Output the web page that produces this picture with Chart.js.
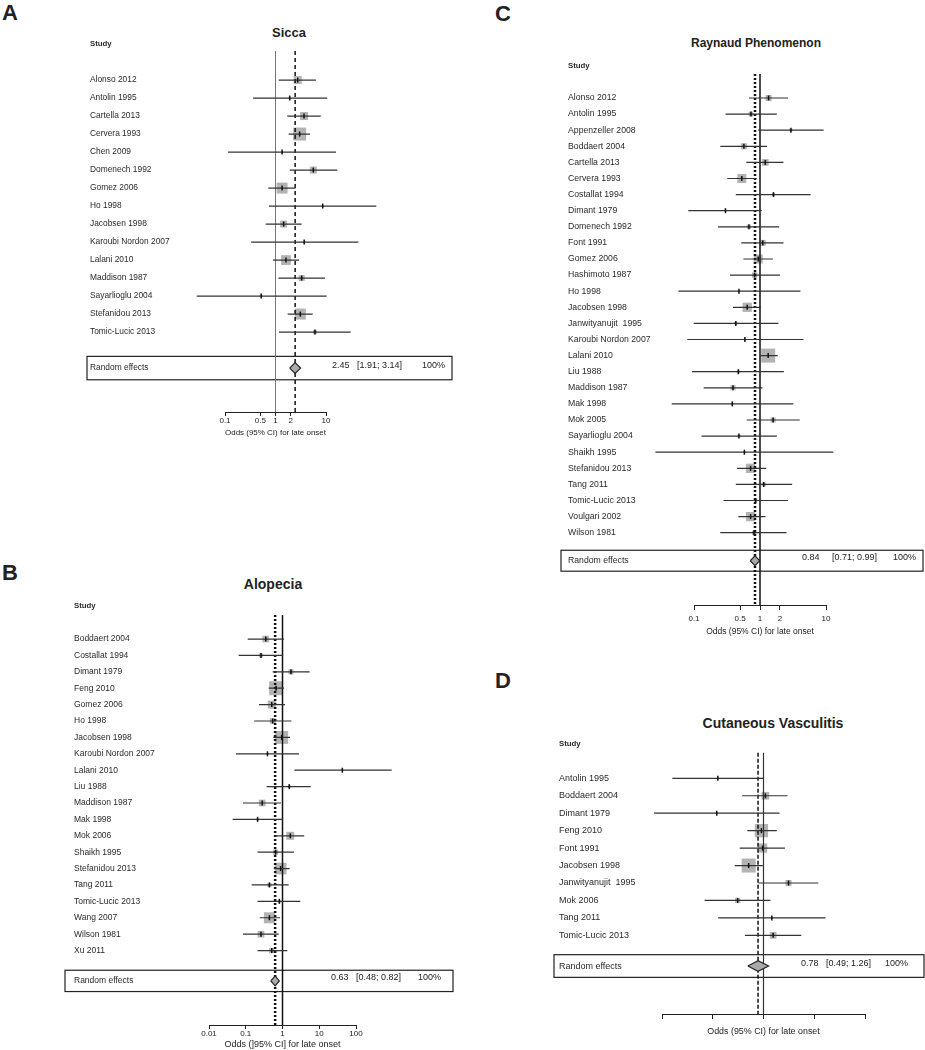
<!DOCTYPE html>
<html>
<head>
<meta charset="utf-8">
<script src="https://cdn.jsdelivr.net/npm/chart.js@4.4.0/dist/chart.umd.min.js"></script>
<style>
    body { margin: 0; background: #fff; }
    #page { position: relative; width: 925px; height: 1050px; font-family: "Liberation Sans", Arial, sans-serif; color: #222; }
    canvas { position: absolute; }
    .letra { position: absolute; font-weight: bold; font-size: 22px; line-height: 22px; }
    .titulo { position: absolute; font-weight: bold; transform: translate(-50%, -50%); white-space: nowrap; line-height: 1; }
</style>
</head>
<body>
<div id="page">
    <div class="letra" style="left:2px;top:2px">A</div>
    <div class="letra" style="left:2px;top:562px">B</div>
    <div class="letra" style="left:495px;top:3px">C</div>
    <div class="letra" style="left:495px;top:670px">D</div>

    <div class="titulo" style="left:289px;top:32px;font-size:13px">Sicca</div>
    <div class="titulo" style="left:273px;top:584px;font-size:14px">Alopecia</div>
    <div class="titulo" style="left:756px;top:43px;font-size:12px">Raynaud Phenomenon</div>
    <div class="titulo" style="left:773px;top:723px;font-size:14px">Cutaneous Vasculitis</div>

    <canvas id="chartSicca" width="460" height="440" style="left:0;top:0"></canvas>
    <canvas id="chartAlopecia" width="460" height="490" style="left:0;top:560px"></canvas>
    <canvas id="chartRaynaud" width="375" height="640" style="left:550px;top:0"></canvas>
    <canvas id="chartVasculitis" width="375" height="380" style="left:550px;top:660px"></canvas>
</div>

<script>
/* =====================
   DATOS
===================== */

// A - Sicca
const siccaStudies = ['Alonso 2012', 'Antolin 1995', 'Cartella 2013', 'Cervera 1993', 'Chen 2009', 'Domenech 1992', 'Gomez 2006', 'Ho 1998', 'Jacobsen 1998', 'Karoubi Nordon 2007', 'Lalani 2010', 'Maddison 1987', 'Sayarlioglu 2004', 'Stefanidou 2013', 'Tomic-Lucic 2013'];
const siccaOR = [2.75, 1.91, 3.67, 3.01, 1.35, 5.6, 1.35, 8.6, 1.45, 3.7, 1.61, 3.3, 0.52, 3.1, 6.05];
const siccaLower = [1.16, 0.36, 1.71, 1.82, 0.115, 1.91, 0.72, 0.74, 0.64, 0.33, 0.89, 1.14, 0.0275, 1.74, 1.17];
const siccaUpper = [6.3, 10.6, 7.85, 4.82, 15.8, 16.7, 2.47, 99, 3.3, 43.7, 2.92, 9.55, 10.3, 5.45, 30.8];
const siccaWeight = [8, 0.5, 8, 21, 0.5, 6, 15, 0.5, 6, 0.5, 12, 4.5, 0.5, 15, 2];
const siccaPooled = [2.45, 1.91, 3.14];
const siccaTicks = [0.1, 0.5, 1, 2, 10];

// B - Alopecia
const alopeciaStudies = ['Boddaert 2004', 'Costallat 1994', 'Dimant 1979', 'Feng 2010', 'Gomez 2006', 'Ho 1998', 'Jacobsen 1998', 'Karoubi Nordon 2007', 'Lalani 2010', 'Liu 1988', 'Maddison 1987', 'Mak 1998', 'Mok 2006', 'Shaikh 1995', 'Stefanidou 2013', 'Tang 2011', 'Tomic-Lucic 2013', 'Wang 2007', 'Wilson 1981', 'Xu 2011'];
const alopeciaOR = [0.35, 0.26, 1.7, 0.67, 0.51, 0.54, 0.95, 0.39, 42.5, 1.53, 0.28, 0.21, 1.63, 0.65, 0.89, 0.44, 0.82, 0.44, 0.26, 0.51];
const alopeciaLower = [0.113, 0.064, 0.54, 0.42, 0.23, 0.17, 0.56, 0.054, 2.1, 0.37, 0.084, 0.044, 0.65, 0.21, 0.59, 0.145, 0.21, 0.24, 0.084, 0.21];
const alopeciaUpper = [1.1, 1.0, 5.5, 1.1, 1.17, 1.74, 1.6, 2.8, 935, 5.85, 0.91, 1.0, 3.9, 2.05, 1.57, 1.47, 3.05, 0.86, 0.79, 1.35];
const alopeciaWeight = [4.2, 1.5, 2.4, 18.5, 6.0, 3.0, 15.9, 0.4, 0.4, 0.8, 4.2, 0.4, 6.0, 2.4, 12.9, 1.7, 0.8, 11.4, 4.2, 2.6];
const alopeciaPooled = [0.63, 0.48, 0.82];
const alopeciaTicks = [0.01, 0.1, 1, 10, 100];

// C - Raynaud
const raynaudStudies = ['Alonso 2012', 'Antolin 1995', 'Appenzeller 2008', 'Boddaert 2004', 'Cartella 2013', 'Cervera 1993', 'Costallat 1994', 'Dimant 1979', 'Domenech 1992', 'Font 1991', 'Gomez 2006', 'Hashimoto 1987', 'Ho 1998', 'Jacobsen 1998', 'Janwityanujit  1995', 'Karoubi Nordon 2007', 'Lalani 2010', 'Liu 1988', 'Maddison 1987', 'Mak 1998', 'Mok 2005', 'Sayarlioglu 2004', 'Shaikh 1995', 'Stefanidou 2013', 'Tang 2011', 'Tomic-Lucic 2013', 'Voulgari 2002', 'Wilson 1981'];
const raynaudOR = [1.35, 0.73, 2.94, 0.57, 1.2, 0.53, 1.6, 0.30, 0.68, 1.1, 0.94, 0.83, 0.48, 0.64, 0.43, 0.59, 1.33, 0.47, 0.39, 0.38, 1.58, 0.48, 0.58, 0.72, 1.14, 0.86, 0.72, 0.81];
const raynaudLower = [0.68, 0.30, 0.94, 0.25, 0.62, 0.32, 0.43, 0.082, 0.23, 0.52, 0.56, 0.35, 0.058, 0.39, 0.099, 0.079, 1.0, 0.093, 0.14, 0.046, 0.63, 0.13, 0.026, 0.45, 0.43, 0.28, 0.47, 0.25];
const raynaudUpper = [2.67, 1.8, 9.2, 1.28, 2.27, 0.89, 5.85, 1.06, 1.95, 2.27, 1.57, 2.02, 4.1, 1.03, 1.9, 4.57, 1.86, 2.3, 1.09, 3.2, 4.0, 1.8, 12.9, 1.24, 3.07, 2.64, 1.21, 2.52];
const raynaudWeight = [3.6, 2.2, 0.9, 3.6, 4.5, 8.1, 0.9, 0.4, 1.8, 3.6, 8.1, 2.8, 0.4, 8.6, 0.9, 0.4, 19.6, 0.9, 2.5, 0.4, 2.5, 0.9, 0.4, 8.6, 1.6, 0.9, 8.6, 1.6];
const raynaudPooled = [0.84, 0.71, 0.99];
const raynaudTicks = [0.1, 0.5, 1, 2, 10];

// D - Cutaneous vasculitis
const vasculitisStudies = ['Antolin 1995', 'Boddaert 2004', 'Dimant 1979', 'Feng 2010', 'Font 1991', 'Jacobsen 1998', 'Janwityanujit  1995', 'Mok 2006', 'Tang 2011', 'Tomic-Lucic 2013'];
const vasculitisOR = [0.126, 1.09, 0.12, 0.91, 0.96, 0.51, 3.11, 0.31, 1.46, 1.55];
const vasculitisLower = [0.016, 0.38, 0.007, 0.48, 0.34, 0.27, 0.79, 0.069, 0.128, 0.43];
const vasculitisUpper = [1.0, 2.97, 2.07, 1.83, 2.64, 0.97, 12, 1.37, 16.7, 5.54];
const vasculitisWeight = [0.6, 9.2, 0.6, 27.7, 13.5, 30.7, 5.6, 4.4, 0.6, 7.0];
const vasculitisPooled = [0.78, 0.49, 1.26];
const vasculitisTicks = [0.01, 0.1, 1, 10, 100];

Chart.defaults.font.family = '"Liberation Sans", Arial, sans-serif';
Chart.defaults.color = '#222';

/* =====================
   CAJA "RANDOM EFFECTS"
===================== */
const randomBox = {
    id: 'randomBox',
    beforeDatasetsDraw(chart, args, opts) {
        const ctx = chart.ctx;
        const y = chart.scales.y;
        const yc = y.getPixelForValue(opts.row);
        const half = Math.abs(y.getPixelForValue(opts.row + 0.65) - yc);
        const left = y.left + opts.boxLeft;
        ctx.save();
        ctx.strokeStyle = '#222';
        ctx.lineWidth = 1.2;
        ctx.strokeRect(left, yc - half, opts.boxRight - left, 2 * half);
        ctx.fillStyle = '#222';
        ctx.font = '9px "Liberation Sans", Arial, sans-serif';
        ctx.textBaseline = 'middle';
        const [est, lo, hi] = opts.pooled;
        ctx.fillText(est.toFixed(2), opts.textX[0], yc - 3);
        ctx.fillText('[' + lo.toFixed(2) + '; ' + hi.toFixed(2) + ']', opts.textX[1], yc - 3);
        ctx.fillText('100%', opts.textX[2], yc - 3);
        ctx.restore();
    }
};

function forestChart(id, p) {
    const rows = [-2].concat(p.studies.map((s, i) => i), [p.randomRow]);
    const rowLabels = ['Study'].concat(p.studies, ['Random effects']);
    const [pooledEst, pooledLo, pooledHi] = p.pooled;
    const maxW = Math.max(...p.weight);

    // intervalos: un tramo por estudio, separados por un punto nulo
    const ciData = [];
    p.studies.forEach((s, i) => {
        ciData.push({ x: p.lower[i], y: i }, { x: p.upper[i], y: i }, { x: p.upper[i], y: null });
    });
    const pointData = p.or.map((v, i) => ({ x: v, y: i }));
    const r = p.randomRow;
    const h = 0.3;
    const diamond = [
        { x: pooledLo, y: r }, { x: pooledEst, y: r - h },
        { x: pooledHi, y: r }, { x: pooledEst, y: r + h },
        { x: pooledLo, y: r }
    ];

    new Chart(document.getElementById(id), {
        type: 'scatter',
        data: {
            datasets: [
                {
                    data: pointData, order: 5, clip: false,
                    pointStyle: 'rect',
                    pointRadius: ctx => p.maxSide * Math.sqrt(p.weight[ctx.dataIndex] / maxW) / (2 * Math.SQRT1_2),
                    pointHoverRadius: ctx => p.maxSide * Math.sqrt(p.weight[ctx.dataIndex] / maxW) / (2 * Math.SQRT1_2),
                    pointBackgroundColor: '#b3b3b3', pointBorderWidth: 0
                },
                {
                    data: [{ x: 1, y: p.lineTop }, { x: 1, y: p.yMax }],
                    showLine: true, order: 4, clip: false, pointRadius: 0,
                    borderColor: p.nullColor, borderWidth: p.nullWidth
                },
                {
                    data: [{ x: pooledEst, y: p.lineTop }, { x: pooledEst, y: p.yMax }],
                    showLine: true, order: 4, clip: false, pointRadius: 0,
                    borderColor: '#111', borderWidth: p.dashWidth, borderDash: p.dash
                },
                {
                    data: ciData, showLine: true, spanGaps: false, order: 3, clip: false,
                    pointRadius: 0, borderColor: '#333', borderWidth: 1.2
                },
                {
                    data: diamond, showLine: true, fill: 'shape', order: 2, pointRadius: 0,
                    borderColor: '#222', borderWidth: 1.2, backgroundColor: '#aaaaaa'
                },
                {
                    data: pointData, order: 1, clip: false,
                    pointStyle: 'line', pointRotation: 90, pointRadius: 2.5, pointHoverRadius: 2.5,
                    pointBorderColor: '#111', pointBorderWidth: 1.5
                }
            ]
        },
        options: {
            responsive: false,
            animation: false,
            events: [],
            layout: { padding: p.padding },
            plugins: {
                legend: { display: false },
                tooltip: { enabled: false },
                randomBox: {
                    row: r, pooled: p.pooled, boxLeft: p.boxLeft,
                    boxRight: p.boxRight, textX: p.textX
                }
            },
            scales: {
                x: {
                    type: 'logarithmic',
                    min: p.ticks[0],
                    max: p.ticks[p.ticks.length - 1],
                    afterBuildTicks: s => { s.ticks = p.ticks.map(v => ({ value: v })); },
                    afterFit: s => { s.height = p.xHeight; },
                    grid: { drawOnChartArea: false, tickLength: p.tickLength, color: '#222' },
                    border: { color: '#222', width: 1 },
                    ticks: {
                        autoSkip: false, maxRotation: 0, padding: p.tickPadding,
                        font: { size: 8 },
                        callback: v => p.tickLabels ? String(v) : ''
                    },
                    title: {
                        display: true, text: p.xTitle, padding: 0,
                        font: { size: p.titleSize }
                    }
                },
                y: {
                    type: 'linear',
                    reverse: true,
                    min: p.yMin,
                    max: p.yMax,
                    afterBuildTicks: s => { s.ticks = rows.map(v => ({ value: v })); },
                    afterFit: s => { s.width = p.yWidth; },
                    grid: { display: false },
                    border: { display: false },
                    ticks: {
                        autoSkip: false, crossAlign: 'far', padding: 0, color: '#2a2a2a',
                        font: ctx => ctx.index === 0 ? { size: 7.8, weight: 'bold' } : { size: p.labelSize },
                        callback: (v, i) => rowLabels[i]
                    }
                }
            }
        },
        plugins: [randomBox]
    });
}

/* =====================
   GRAFICOS
===================== */
forestChart('chartSicca', {
    studies: siccaStudies, or: siccaOR, lower: siccaLower, upper: siccaUpper,
    weight: siccaWeight, pooled: siccaPooled, ticks: siccaTicks, tickLabels: true,
    xTitle: 'Odds (95% CI) for late onset', titleSize: 8, labelSize: 8.4,
    padding: { left: 90, right: 134, top: 30, bottom: 2 },
    yWidth: 135, xHeight: 26, tickLength: 4, tickPadding: 0,
    yMin: -2.78, yMax: 18.44, lineTop: -1.61, randomRow: 16,
    maxSide: 13, nullColor: '#777', nullWidth: 1, dash: [4, 3], dashWidth: 1.5,
    boxLeft: -3, boxRight: 452, textX: [332, 357, 422]
});

forestChart('chartAlopecia', {
    studies: alopeciaStudies, or: alopeciaOR, lower: alopeciaLower, upper: alopeciaUpper,
    weight: alopeciaWeight, pooled: alopeciaPooled, ticks: alopeciaTicks, tickLabels: true,
    xTitle: 'Odds (]95% CI] for late onset', titleSize: 9, labelSize: 8.5,
    padding: { left: 74, right: 104, top: 30, bottom: 0 },
    yWidth: 135, xHeight: 25, tickLength: 4, tickPadding: 0,
    yMin: -2.99, yMax: 23.54, lineTop: -1.46, randomRow: 20.85,
    maxSide: 14, nullColor: '#111', nullWidth: 1.5, dash: [2, 2], dashWidth: 2.5,
    boxLeft: -9, boxRight: 453, textX: [331, 356, 418]
});

forestChart('chartRaynaud', {
    studies: raynaudStudies, or: raynaudOR, lower: raynaudLower, upper: raynaudUpper,
    weight: raynaudWeight, pooled: raynaudPooled, ticks: raynaudTicks, tickLabels: true,
    xTitle: 'Odds (95% CI) for late onset', titleSize: 8.5, labelSize: 8.7,
    padding: { left: 18, right: 99, top: 50, bottom: 3 },
    yWidth: 126, xHeight: 32, tickLength: 5, tickPadding: 4,
    yMin: -2.98, yMax: 31.49, lineTop: -1.49, randomRow: 28.74,
    maxSide: 14, nullColor: '#111', nullWidth: 1.5, dash: [2, 2], dashWidth: 2.5,
    boxLeft: -7, boxRight: 373, textX: [252, 282, 343]
});

forestChart('chartVasculitis', {
    studies: vasculitisStudies, or: vasculitisOR, lower: vasculitisLower, upper: vasculitisUpper,
    weight: vasculitisWeight, pooled: vasculitisPooled, ticks: vasculitisTicks, tickLabels: false,
    xTitle: 'Odds (95% CI) for late onset', titleSize: 8.9, labelSize: 9,
    padding: { left: 9, right: 60, top: 70, bottom: 3 },
    yWidth: 103, xHeight: 23, tickLength: 5, tickPadding: 0,
    yMin: -2.77, yMax: 13.51, lineTop: -1.47, randomRow: 10.76,
    maxSide: 14, nullColor: '#333', nullWidth: 1.2, dash: [4, 2], dashWidth: 1.5,
    boxLeft: -5, boxRight: 374, textX: [251, 276, 335]
});
</script>
</body>
</html>
